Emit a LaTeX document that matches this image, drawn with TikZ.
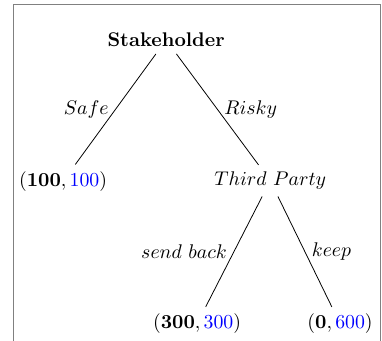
\documentclass[tikz,border=0pt]{standalone}
\usepackage{xcolor}
\begin{document}
\begin{tikzpicture}[scale=1.0]
  \useasboundingbox (0,0) rectangle (6.785,-6.04);
  % open frame
  \draw[gray] (0.23,-6.2) -- (0.23,-0.07) -- (6.75,-0.07) -- (6.75,-6.2);
  % players and outcomes
  \node (root) at (2.95,-0.71) {\textbf{Stakeholder}};
  \node (safe) at (1.12,-3.22) {$(\mathbf{100},{\color{blue}100})$};
  \node (third) at (4.80,-3.21) {$Third\ Party$};
  \node (back) at (3.50,-5.75) {$(\mathbf{300},{\color{blue}300})$};
  \node (keep) at (6.04,-5.75) {$(\mathbf{0},{\color{blue}600})$};
  % moves
  \draw (root) -- node[left] {$Safe$} (safe);
  \draw (root) -- node[right] {$Risky$} (third);
  \draw (third) -- node[left] {$send\ back$} (back);
  \draw (third) -- node[right] {$keep$} (keep);
\end{tikzpicture}
\end{document}
